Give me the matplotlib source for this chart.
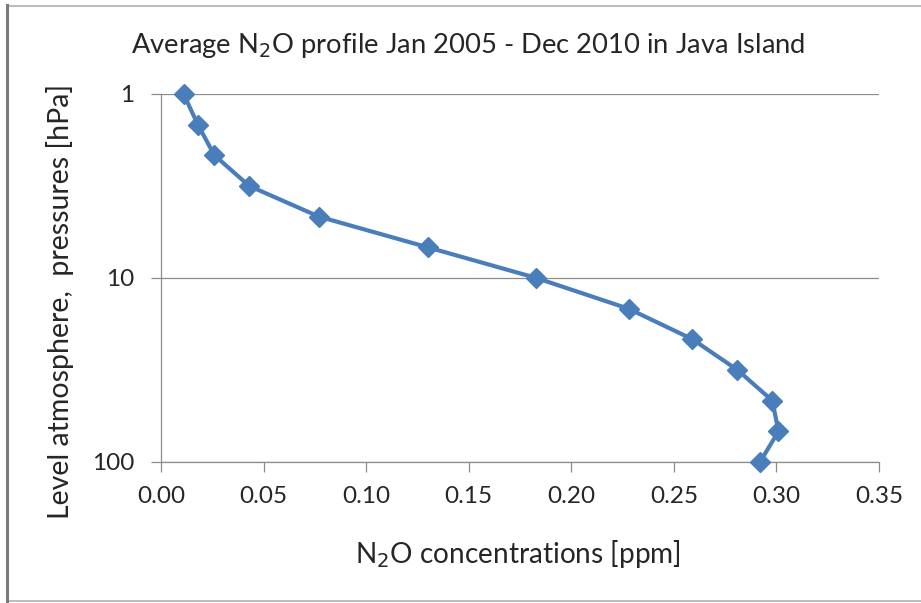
import matplotlib
matplotlib.use("Agg")
import matplotlib.pyplot as plt
from matplotlib.lines import Line2D

plt.rcParams['font.family'] = ['Lato', 'DejaVu Sans']

# Data
concentration_ppm = [0.011, 0.018, 0.026, 0.043, 0.077, 0.130, 0.183,
                     0.228, 0.259, 0.281, 0.298, 0.301, 0.292]
pressure_hpa = [1.0, 1.47, 2.15, 3.16, 4.64, 6.81, 10.0,
                14.7, 21.5, 31.6, 46.4, 68.1, 100.0]
x_ticks = [0.00, 0.05, 0.10, 0.15, 0.20, 0.25, 0.30, 0.35]
y_ticks = [1, 10, 100]

W, H = 921, 603
fig = plt.figure(figsize=(W / 100, H / 100), dpi=100)
ax = fig.add_axes([161 / W, 1 - 462 / H, (879 - 161) / W, (462 - 94) / H])

line_color = '#4A7EBB'
ax.plot(concentration_ppm, pressure_hpa, color=line_color, lw=3.0,
        marker='D', markersize=10.5, markerfacecolor=line_color,
        markeredgecolor=line_color, solid_joinstyle='round', zorder=3,
        clip_on=False)

ax.set_yscale('log')
ax.set_ylim(100, 1)
ax.set_xlim(0, 0.35)
ax.set_xticks(x_ticks)
ax.set_xticklabels([f"{v:.2f}" for v in x_ticks])
ax.set_yticks(y_ticks)
ax.set_yticklabels([str(v) for v in y_ticks])
ax.yaxis.set_minor_locator(matplotlib.ticker.NullLocator())

grid_c = '#8C8C8C'
txt_c = '#262626'
ax.grid(axis='y', color=grid_c, lw=0.9)
ax.set_axisbelow(True)
for s in ['top', 'right']:
    ax.spines[s].set_visible(False)
for s in ['left', 'bottom']:
    ax.spines[s].set_color(grid_c)
    ax.spines[s].set_linewidth(0.9)
ax.tick_params(axis='both', direction='out', length=7, width=0.9,
               color=grid_c, labelsize=17.5, labelcolor=txt_c)
ax.tick_params(axis='x', pad=10)
ax.tick_params(axis='y', pad=12)

fig.text(518 / W, 1 - 563 / H, 'N$_2$O concentrations [ppm]',
         ha='center', va='baseline', fontsize=20.2, color=txt_c)
fig.text(60 / W, 1 - 301 / H, 'Level atmosphere,  pressures [hPa]',
         rotation=90, ha='center', va='center', fontsize=20.5, color=txt_c)
fig.text(468 / W, 1 - 53 / H,
         'Average N$_2$O profile Jan 2005 - Dec 2010 in Java Island',
         ha='center', va='baseline', fontsize=19.7, color=txt_c)

# chart frame (no right edge visible in the reference)
frame_c = '#B0B0B0'
fig.add_artist(Line2D([7 / W, 1], [1 - 5.5 / H, 1 - 5.5 / H],
                      transform=fig.transFigure, color=frame_c, lw=1.2))
fig.add_artist(Line2D([7 / W, 1], [1 - 600.5 / H, 1 - 600.5 / H],
                      transform=fig.transFigure, color=frame_c, lw=1.2))
fig.add_artist(Line2D([7 / W, 7 / W], [1 - 601 / H, 1 - 5 / H],
                      transform=fig.transFigure, color='#7A7A7A', lw=2.2))

fig.savefig('out.png', dpi=100)
